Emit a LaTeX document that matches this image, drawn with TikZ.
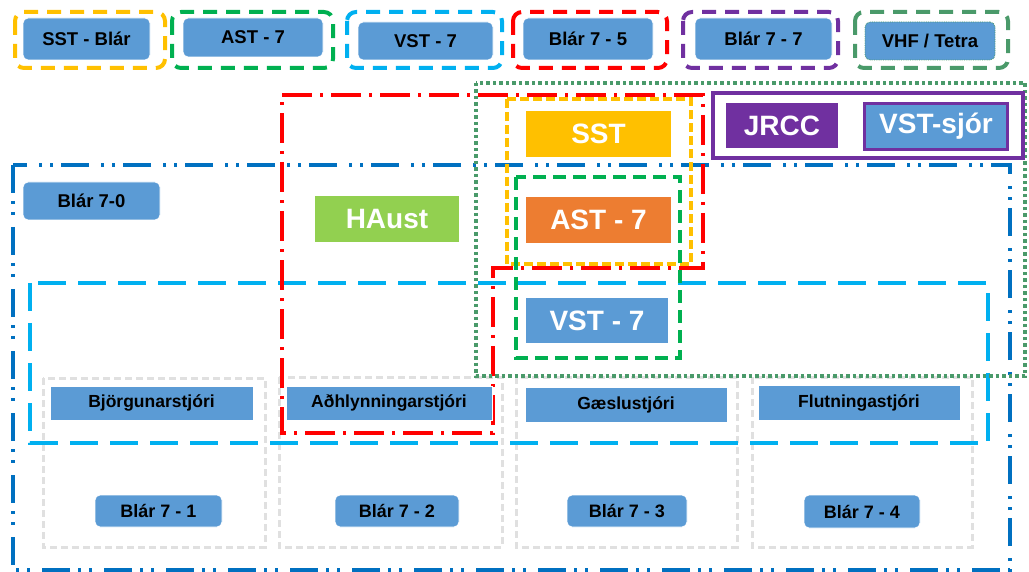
\documentclass[tikz,border=0pt]{standalone}
\usepackage{fontspec}
\setmainfont{Liberation Sans}
\definecolor{cblue}{HTML}{5B9BD5}
\definecolor{cyel}{HTML}{FFC000}
\definecolor{cgreen}{HTML}{00B050}
\definecolor{ccyan}{HTML}{00B0F0}
\definecolor{cred}{HTML}{FF0000}
\definecolor{cpurple}{HTML}{7030A0}
\definecolor{csea}{HTML}{4A9A6A}
\definecolor{cdblue}{HTML}{0070C0}
\definecolor{corange}{HTML}{ED7D31}
\definecolor{clgreen}{HTML}{92D050}
\definecolor{cgray}{HTML}{E0E0E0}
\begin{document}
\begin{tikzpicture}[x=1pt,y=-1pt,
  legendframe/.style={line width=4pt, dash pattern=on 14pt off 9pt, rounded corners=9pt},
  legendbox/.style={fill=cblue, draw=white, line width=0.8pt, rounded corners=5pt, inner sep=0pt,
     font=\fontsize{18.5}{20}\selectfont\bfseries, text=black},
  smallbox/.style={fill=cblue, draw=white, line width=0.8pt, inner sep=0pt,
     font=\fontsize{17.5}{20}\selectfont\bfseries, text=black},
  bigbox/.style={inner sep=0pt, font=\fontsize{28}{30}\selectfont\bfseries, text=white},
  grayframe/.style={draw=cgray, line width=3pt, dash pattern=on 7pt off 4pt},
  sz/.style 2 args={minimum width=#1pt, minimum height=#2pt}
]
\useasboundingbox (0,0) rectangle (1029,572);

% ---- legend ----
\draw[legendframe, draw=cyel]    (15,12) rectangle (165,68);
\draw[legendframe, draw=cgreen]  (172,12) rectangle (333,68);
\draw[legendframe, draw=ccyan]   (347,12) rectangle (502,68);
\draw[legendframe, draw=cred]    (513,12) rectangle (667,68);
\draw[legendframe, draw=cpurple] (683,12) rectangle (838,68);
\draw[legendframe, draw=csea]    (855,12) rectangle (1008,68);
\node[legendbox, sz={127}{42}] (l1) at (86.5,39) {SST - Blár};
\node[legendbox, sz={140}{39}] (l2) at (253,37.5) {AST - 7};
\node[legendbox, sz={135}{38}] (l3) at (425.5,41) {VST - 7};
\node[legendbox, sz={130}{42}] (l4) at (588,39) {Blár 7 - 5};
\node[legendbox, sz={137}{42}] (l5) at (763.5,39) {Blár 7 - 7};
\node[legendbox, sz={130}{38}, draw=csea, densely dotted] (l6) at (930,41) {VHF / Tetra};

% ---- containers ----
\draw[grayframe] (43,378) rectangle (265,547);
\draw[grayframe] (279,377) rectangle (502,547);
\draw[grayframe] (516,377) rectangle (737,547);
\draw[grayframe] (752,377) rectangle (972,547);
\draw[draw=cdblue, line width=3.5pt, dash pattern=on 28pt off 8pt on 3pt off 8pt on 3pt off 12pt]
  (13,165) rectangle (1010,570);
\draw[draw=ccyan, line width=3.5pt, dash pattern=on 28pt off 12pt] (30,283) rectangle (988,443);
\draw[draw=cred, line width=4pt, dash pattern=on 30pt off 8pt on 3pt off 8pt]
  (282,95) -- (703,95) -- (703,268) -- (493,268) -- (493,433) -- (282,433) -- cycle;
\draw[draw=csea, line width=4pt, dash pattern=on 3.5pt off 3pt] (476,83) rectangle (1025,376);
\draw[draw=cyel, line width=3.5pt, dash pattern=on 9pt off 4pt] (507,99) rectangle (691,264);
\draw[draw=cgreen, line width=3.5pt, dash pattern=on 13pt off 7pt] (516,177) rectangle (680,358);
\draw[draw=cpurple, line width=3.5pt] (713,93) rectangle (1023,158);

% ---- main boxes ----
\node[bigbox, fill=cyel, sz={145}{46}] (sst) at (598.5,134) {SST};
\node[bigbox, fill=corange, sz={145}{46}] (ast) at (598.5,220) {AST - 7};
\node[bigbox, fill=clgreen, sz={144}{46}] (haust) at (387,219) {HAust};
\node[bigbox, fill=cblue, sz={142}{45}] (vst) at (597,320.5) {VST - 7};
\node[bigbox, fill=cpurple, sz={112}{45}] (jrcc) at (782,125.5) {JRCC};
\node[bigbox, fill=cblue, draw=cpurple, line width=3pt, sz={143}{46}] (vsts) at (936,126.5) {VST-sjór};

\node[legendbox, sz={137}{38}] (b0) at (91.5,201) {Blár 7-0};

\node[smallbox, sz={203}{34}] (h1) at (151.5,403) {Björgunarstjóri};
\node[smallbox, sz={206}{34}] (h2) at (389,403) {Aðhlynningarstjóri};
\node[smallbox, sz={202}{35}] (h3) at (626,404.5) {Gæslustjóri};
\node[smallbox, sz={202}{35}] (h4) at (859,402.5) {Flutningastjóri};

\node[legendbox, sz={127}{32}, font=\fontsize{18}{20}\selectfont\bfseries] (b1) at (158.5,511) {Blár 7 - 1};
\node[legendbox, sz={124}{32}, font=\fontsize{18}{20}\selectfont\bfseries] (b2) at (397,511) {Blár 7 - 2};
\node[legendbox, sz={120}{32}, font=\fontsize{18}{20}\selectfont\bfseries] (b3) at (627,511) {Blár 7 - 3};
\node[legendbox, sz={116}{33}, font=\fontsize{18}{20}\selectfont\bfseries] (b4) at (862,511.5) {Blár 7 - 4};
\end{tikzpicture}
\end{document}
